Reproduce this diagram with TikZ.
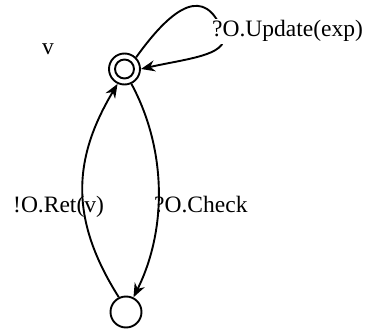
\documentclass[tikz,border=0pt]{standalone}
\usepackage{fontspec}
\setmainfont{Liberation Serif}
\usetikzlibrary{arrows.meta}
\begin{document}
\begin{tikzpicture}[x=1pt,y=-1pt,
  state/.style={draw,circle,line width=1.9pt,minimum size=31pt,inner sep=0pt},
  edge/.style={line width=1.9pt,-{Stealth[length=14pt,width=11pt,inset=4.5pt]}},
  lbl/.style={font=\fontsize{23.5}{26}\selectfont,inner sep=0pt,anchor=base west}]
\useasboundingbox (0,0) rectangle (365,331);
\node[state] (top) at (124.5,69) {};
\draw[line width=1.9pt] (top.center) circle (9.5pt);
\node[state] (bot) at (126,312) {};
\coordinate (lp) at (222,30);
% self loop
\draw[line width=1.9pt] (top.45) .. controls (175,3) and (205,-12) .. (lp);
\draw[edge] (lp) .. controls (234,55) and (190,58) .. (top.east);
% left edge
\draw[edge] (bot.116) .. controls (70,220) and (72,160) .. (top.245);
% right edge
\draw[edge] (top.295) .. controls (167,150) and (167,230) .. (bot.63);
% labels
\node[lbl,fill=white,inner sep=1.5pt] (lu) at (210.5,37) {?O.Update(exp)};
\node[lbl] (lr) at (13,213) {!O.Ret(v)};
\node[lbl] (lc) at (154,213) {?O.Check};
\node[lbl] (lv) at (42,55) {v};
\end{tikzpicture}
\end{document}
